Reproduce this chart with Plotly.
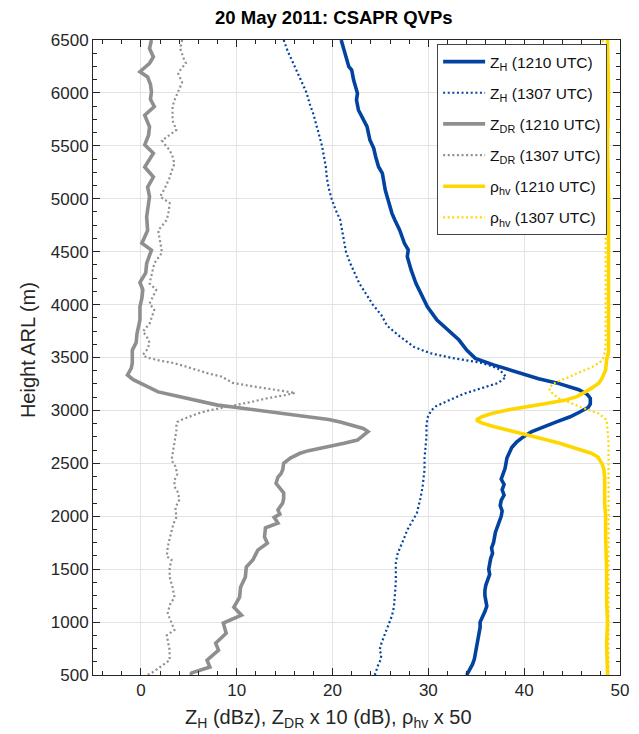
import plotly.graph_objects as go

# ---------------- data ----------------
zh1210_h = [6500, 6405, 6311, 6248, 6217, 6122, 5996, 5933, 5839, 5744, 5681, 5555, 5508, 5476, 5397,
            5303, 5240, 5177, 5082, 4988, 4862, 4799, 4705, 4579, 4516, 4453, 4327, 4201, 4075, 3980,
            3854, 3760, 3665, 3570, 3492, 3430, 3380, 3335, 3300, 3260, 3230, 3195, 3150, 3115, 3060,
            3030, 2985, 2940, 2890, 2845, 2800, 2750, 2700, 2650, 2595, 2550, 2500, 2450, 2400, 2350,
            2300, 2250, 2200, 2150, 2100, 2050, 2000, 1950, 1900, 1850, 1800, 1750, 1700, 1650, 1600,
            1550, 1500, 1450, 1400, 1350, 1300, 1250, 1200, 1150, 1100, 1050, 1000, 950, 900, 850,
            800, 750, 700, 650, 600, 550, 500]
zh1210_v = [20.9, 21.2, 21.5, 21.7, 22.0, 22.2, 22.6, 22.5, 22.7, 23.3, 23.6, 23.9, 24.1, 24.3, 24.5,
            24.8, 25.2, 25.3, 25.5, 25.8, 26.2, 26.5, 27.0, 27.5, 27.9, 27.8, 28.2, 28.7, 29.4, 29.9,
            30.9, 32.0, 33.2, 34.0, 34.9, 36.8, 38.6, 40.2, 41.5, 43.4, 44.6, 45.7, 46.6, 46.9, 46.9,
            46.7, 45.8, 44.8, 43.3, 42.0, 40.8, 39.9, 39.2, 38.7, 38.4, 38.2, 38.1, 38.0, 37.8, 37.6,
            37.9, 37.7, 37.9, 37.6, 37.5, 37.7, 37.6, 37.4, 37.2, 37.0, 36.9, 36.8, 36.6, 36.7, 36.5,
            36.4, 36.3, 36.4, 36.2, 36.0, 35.9, 35.9, 36.0, 36.1, 35.9, 35.6, 35.4, 35.4, 35.3, 35.2,
            35.1, 35.0, 34.9, 34.8, 34.6, 34.3, 34.0]

zh1307_h = [6500, 6400, 6300, 6200, 6100, 6000, 5900, 5800, 5700, 5600, 5500, 5400, 5300, 5200, 5100,
            5000, 4900, 4800, 4700, 4600, 4500, 4400, 4300, 4200, 4100, 4000, 3900, 3800, 3700, 3600,
            3540, 3495, 3450, 3400, 3350, 3315, 3260, 3230, 3195, 3160, 3130, 3080, 3040, 3000, 2930,
            2850, 2750, 2650, 2550, 2440, 2350, 2280, 2180, 2100, 2030, 1950, 1870, 1800, 1710, 1650,
            1560, 1450, 1370, 1250, 1140, 1060, 990, 920, 860, 800, 735, 690, 640, 580, 520, 500]
zh1307_v = [14.9, 15.3, 15.8, 16.3, 16.8, 17.3, 17.6, 18.0, 18.3, 18.6, 18.9, 19.1, 19.3, 19.4, 19.6,
            19.9, 20.3, 20.8, 21.0, 21.2, 21.4, 21.8, 22.3, 22.8, 23.5, 24.2, 25.1, 25.7, 27.0, 28.5,
            30.2, 32.5, 35.5, 37.2, 37.8, 38.1, 37.3, 36.2, 34.9, 33.8, 33.0, 31.7, 30.8, 30.3, 29.9,
            29.8, 29.8, 29.7, 29.6, 29.6, 29.5, 29.4, 29.2, 29.0, 28.8, 28.3, 27.8, 27.5, 27.1, 26.8,
            26.6, 26.6, 26.6, 26.5, 26.4, 26.2, 25.9, 25.6, 25.4, 25.1, 24.9, 25.1, 25.0, 24.7, 24.5, 24.4]

zdr1210_h = [6500, 6420, 6340, 6280, 6200, 6150, 6080, 6010, 5940, 5870, 5790, 5680, 5600, 5510, 5430,
             5360, 5300, 5205, 5110, 5020, 4930, 4830, 4700, 4580, 4515, 4390, 4300, 4210, 4140, 4060,
             3980, 3855, 3730, 3640, 3570, 3450, 3400, 3335, 3290, 3260, 3220, 3175, 3140, 3115, 3080,
             3050, 3030, 3005, 2985, 2960, 2940, 2915, 2890, 2860, 2830, 2800, 2770, 2740, 2720, 2690,
             2670, 2640, 2620, 2595, 2550, 2500, 2440, 2400, 2370, 2310, 2260, 2220, 2170, 2125, 2060,
             2020, 1990, 1935, 1890, 1805, 1745, 1680, 1590, 1520, 1425, 1330, 1235, 1140, 1065, 990,
             895, 800, 735, 640, 575, 540, 520, 500]
zdr1210_v = [1.1, 0.9, 1.3, 0.9, -0.1, 0.7, 1.0, 1.1, 1.0, 1.4, 0.4, 0.9, 0.8, 0.4, 1.3,
             0.8, 0.4, 1.3, 0.7, 0.9, 0.8, 0.6, 0.7, 0.1, 1.1, 0.6, 0.5, -0.1, 0.2, 0.1,
             -0.1, -0.1, -0.4, -0.5, -0.9, -0.9, -1.0, -1.4, -0.8, -0.1, 0.8, 1.8, 3.5, 4.7, 6.4,
             8.0, 9.8, 12.0, 13.9, 16.0, 18.1, 19.6, 20.8, 22.2, 23.2, 23.7, 23.3, 22.9, 22.6, 21.2,
             20.1, 18.6, 17.5, 16.6, 15.6, 14.9, 14.8, 14.6, 14.3, 14.1, 14.6, 14.9, 14.9, 14.8, 14.3,
             14.5, 13.9, 14.3, 13.0, 12.9, 13.2, 12.2, 11.7, 11.0, 10.9, 10.4, 10.3, 9.7, 10.5, 8.6,
             8.9, 7.8, 8.1, 6.9, 7.2, 5.9, 5.3, 5.2]

zdr1307_h = [6500, 6420, 6340, 6280, 6230, 6180, 6100, 6000, 5930, 5870, 5740, 5650, 5550, 5500, 5460,
             5400, 5330, 5260, 5200, 5100, 5020, 4960, 4880, 4800, 4700, 4600, 4490, 4390, 4300, 4200,
             4140, 4070, 4010, 3950, 3880, 3820, 3745, 3700, 3640, 3580, 3525, 3500, 3470, 3450, 3420,
             3385, 3350, 3320, 3290, 3260, 3230, 3210, 3185, 3165, 3140, 3115, 3080, 3050, 3020, 3000,
             2970, 2940, 2910, 2890, 2850, 2810, 2750, 2685, 2600, 2530, 2470, 2400, 2340, 2280, 2220,
             2155, 2080, 1990, 1930, 1870, 1790, 1710, 1620, 1590, 1510, 1425, 1330, 1235, 1160, 1080,
             1000, 925, 875, 800, 735, 640, 575, 530, 500]
zdr1307_v = [4.3, 4.1, 4.4, 4.7, 4.2, 3.9, 4.3, 3.8, 3.5, 3.3, 3.3, 3.7, 2.2, 2.6, 3.0,
             3.3, 3.5, 3.2, 3.0, 2.5, 2.0, 3.0, 2.9, 2.7, 1.8, 2.0, 2.2, 1.4, 1.2, 0.9,
             1.6, 1.2, 0.9, 1.4, 1.1, 0.9, 0.2, 0.6, 0.9, 0.7, 0.2, 0.6, 2.0, 3.3, 4.5,
             5.7, 7.0, 8.4, 9.0, 9.6, 11.5, 12.9, 14.5, 16.1, 14.8, 13.2, 11.5, 9.8, 8.3, 7.1,
             5.9, 5.0, 4.2, 3.8, 3.7, 3.7, 3.6, 3.5, 3.3, 3.2, 3.6, 3.8, 3.5, 3.5, 3.9,
             4.0, 3.6, 3.7, 3.4, 3.2, 3.0, 2.8, 2.7, 3.2, 3.0, 3.0, 3.3, 3.5, 3.0, 2.8,
             3.2, 3.5, 2.7, 2.9, 3.0, 3.0, 2.0, 1.3, 0.7]

rho1210_h = [6500, 6000, 5500, 5000, 4500, 4000, 3665, 3550, 3475, 3380, 3300, 3260, 3220, 3195, 3165,
             3130, 3095, 3060, 3030, 3000, 2970, 2940, 2910, 2880, 2845, 2815, 2780, 2750, 2720, 2690,
             2650, 2625, 2595, 2560, 2520, 2500, 2450, 2370, 2250, 2125, 2000, 1800, 1500, 1200, 1000, 800, 500]
rho1210_v = [48.7, 48.8, 48.7, 48.8, 48.8, 48.8, 48.8, 48.8, 48.6, 48.5, 48.1, 47.8, 47.2, 46.8, 46.2,
             45.5, 44.2, 42.0, 40.0, 38.0, 36.6, 35.6, 35.0, 35.6, 36.9, 38.3, 39.7, 41.0, 42.4, 43.7,
             45.2, 46.1, 47.0, 47.7, 48.0, 48.1, 48.3, 48.4, 48.4, 48.4, 48.5, 48.5, 48.6, 48.6, 48.7, 48.6, 48.7]

rho1307_h = [6500, 6000, 5500, 5000, 4500, 4000, 3600, 3500, 3455, 3410, 3380, 3350, 3315, 3285, 3250,
             3210, 3180, 3150, 3115, 3080, 3030, 3000, 2970, 2940, 2910, 2815, 2700, 2500, 2000, 1500, 1000, 500]
rho1307_v = [48.2, 48.4, 48.5, 48.5, 48.5, 48.5, 48.5, 48.3, 47.9, 47.1, 46.2, 45.5, 44.7, 43.8, 43.0,
             42.6, 42.7, 43.1, 43.6, 44.6, 45.9, 46.9, 47.8, 48.2, 48.6, 48.7, 48.8, 48.8, 48.8, 48.8, 48.8, 48.8]

series_names = ["Z<sub>H</sub> (1210 UTC)", "Z<sub>H</sub> (1307 UTC)",
                "Z<sub>DR</sub> (1210 UTC)", "Z<sub>DR</sub> (1307 UTC)",
                "ρ<sub>hv</sub> (1210 UTC)", "ρ<sub>hv</sub> (1307 UTC)"]

title_text = "20 May 2011: CSAPR QVPs"
xlabel_text = "Z<sub>H</sub> (dBz), Z<sub>DR</sub> x 10 (dB), ρ<sub>hv</sub> x 50"
ylabel_text = "Height ARL (m)"

# ---------------- styles ----------------
BLUE = "#0343a0"
GRAY = "#8f8f8f"
YELLOW = "#ffd700"
DOT = "2px,2.6px"
FONT = "Liberation Sans, Arial, Helvetica, sans-serif"
AX = "#262626"

traces = [
    (zh1210_v, zh1210_h, BLUE, "solid", 3.6),
    (zh1307_v, zh1307_h, BLUE, DOT, 2.2),
    (zdr1210_v, zdr1210_h, GRAY, "solid", 3.6),
    (zdr1307_v, zdr1307_h, GRAY, DOT, 2.2),
    (rho1210_v, rho1210_h, YELLOW, "solid", 3.6),
    (rho1307_v, rho1307_h, YELLOW, DOT, 2.2),
]

fig = go.Figure()
for i, (xv, yv, col, dash, w) in enumerate(traces):
    fig.add_trace(go.Scatter(x=xv, y=yv, mode="lines", name=series_names[i],
                             legendgroup=f"g{i}",
                             line=dict(color=col, width=w, dash=dash)))

L, R, T, B = 93, 10, 40, 59
W, H = 639, 734
pw = W - L - R
ph = H - T - B

fig.update_layout(
    width=W, height=H,
    margin=dict(l=L, r=R, t=T, b=B, pad=0),
    paper_bgcolor="white", plot_bgcolor="white",
    font=dict(family=FONT, color=AX, size=17),
    showlegend=True,
    legend=dict(x=(443 - L) / pw, y=1 - (44 - T) / ph, xanchor="left", yanchor="top",
                bgcolor="white", bordercolor="#444444", borderwidth=1,
                font=dict(family=FONT, size=15.5, color="#111111"),
                tracegroupgap=8, itemwidth=42),
    xaxis=dict(range=[-5, 50], dtick=10, tick0=0, showgrid=True, gridcolor="#e3e3e3", gridwidth=1,
               zeroline=False, showline=True, linecolor=AX, linewidth=1, mirror="ticks",
               ticks="inside", ticklen=7, tickcolor=AX,
               minor=dict(dtick=2, ticks="inside", ticklen=4, tickcolor=AX, showgrid=False),
               tickfont=dict(size=17, color=AX)),
    yaxis=dict(range=[500, 6500], dtick=500, tick0=500, showgrid=True, gridcolor="#e3e3e3", gridwidth=1,
               zeroline=False, showline=True, linecolor=AX, linewidth=1, mirror="ticks",
               ticks="inside", ticklen=7, tickcolor=AX,
               minor=dict(dtick=125, ticks="inside", ticklen=4, tickcolor=AX, showgrid=False),
               tickfont=dict(size=17, color=AX)),
    annotations=[
        dict(text="<b>" + title_text + "</b>", xref="paper", yref="paper",
             x=(338 - L) / pw, y=1 + (T - 18) / ph, xanchor="center", yanchor="middle",
             showarrow=False, font=dict(size=18.5, color="#000000", family=FONT)),
        dict(text=xlabel_text, xref="paper", yref="paper",
             x=(333 - L) / pw, y=-(704 - (H - B)) / ph, xanchor="center", yanchor="top",
             showarrow=False, font=dict(size=20, color=AX, family=FONT)),
        dict(text=ylabel_text, xref="paper", yref="paper", textangle=-90,
             x=(27 - L) / pw, y=(H - B - 350) / ph, xanchor="center", yanchor="middle",
             showarrow=False, font=dict(size=20, color=AX, family=FONT)),
    ],
)

fig.write_html("out.html")
